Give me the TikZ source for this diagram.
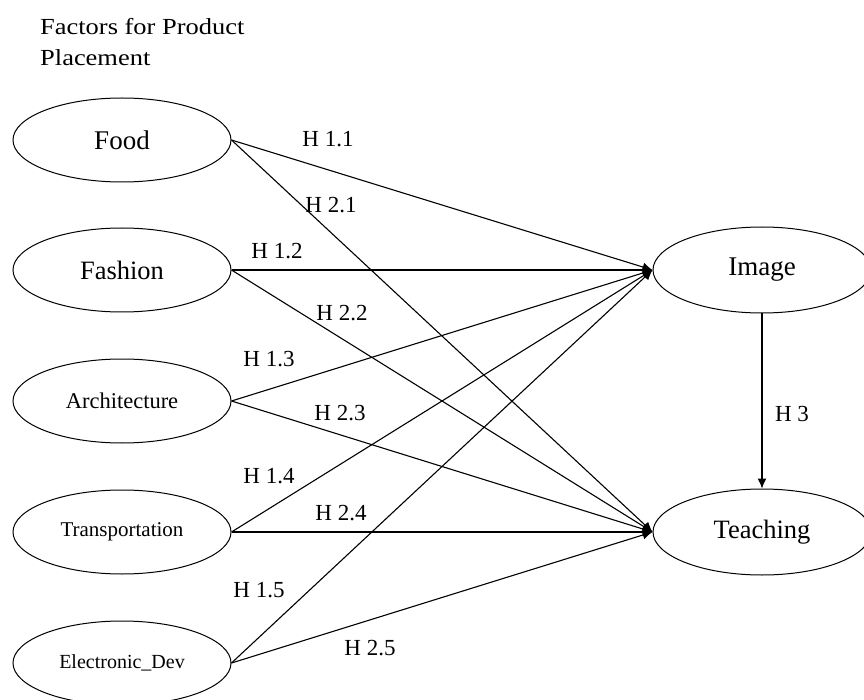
\documentclass[tikz,border=0pt]{standalone}
\usepackage{fontspec}
\setmainfont{Liberation Serif}
\newfontfamily\titlefont[FakeStretch=1.15]{Liberation Serif}
\usetikzlibrary{arrows.meta,calc,shapes.geometric}

\begin{document}
\begin{tikzpicture}[>={Latex[length=10pt,width=9pt]}, x=1pt, y=-1pt]
	\tikzstyle{factor}=[ellipse, draw, line width=1pt, inner sep=0pt, minimum width=218pt, minimum height=84pt]
	\tikzstyle{hyp}=[line width=1.1pt, ->]
	\tikzstyle{hyplabel}=[inner sep=0pt, font=\fontsize{23}{27}\selectfont]

	\useasboundingbox (0,0) rectangle (864,700);

	\node (title) [anchor=base west, align=left, inner sep=0pt, font=\titlefont\fontsize{23}{31}\selectfont] at (40,66) {Factors for Product\\Placement};

	\node (food) [factor, font=\fontsize{27}{30}\selectfont] at (122,140) {Food};
	\node (fashion) [factor, font=\fontsize{26.5}{30}\selectfont] at (122,270) {Fashion};
	\node (architecture) [factor, font=\fontsize{22.5}{26}\selectfont] at (122,401) {Architecture};
	\node (transportation) [factor, font=\fontsize{21}{25}\selectfont] at (122,532) {Transportation};
	\node (electronic) [factor, font=\fontsize{20}{24}\selectfont] at (122,663) {Electronic\_Dev};

	\node (image) [factor, minimum height=86pt, font=\fontsize{27}{30}\selectfont] at (762,270) {Image};
	\node (teaching) [factor, minimum height=86pt, font=\fontsize{26.5}{30}\selectfont] at (762,532) {Teaching};

	\draw [hyp] (food.east) -- (image.west);
	\draw [hyp] (food.east) -- (teaching.west);
	\draw [hyp] (fashion.east) -- (image.west);
	\draw [hyp] (fashion.east) -- (teaching.west);
	\draw [hyp] (architecture.east) -- (image.west);
	\draw [hyp] (architecture.east) -- (teaching.west);
	\draw [hyp] (transportation.east) -- (image.west);
	\draw [hyp] (transportation.east) -- (teaching.west);
	\draw [hyp] (electronic.east) -- (image.west);
	\draw [hyp] (electronic.east) -- (teaching.west);
	\draw [hyp] (image.south) -- (teaching.north);

	\node (h11) [hyplabel] at (328,139) {H 1.1};
	\node (h21) [hyplabel] at (331,205) {H 2.1};
	\node (h12) [hyplabel] at (277,251) {H 1.2};
	\node (h22) [hyplabel] at (342,313) {H 2.2};
	\node (h13) [hyplabel] at (269,359) {H 1.3};
	\node (h23) [hyplabel] at (340,413) {H 2.3};
	\node (h14) [hyplabel] at (269,476) {H 1.4};
	\node (h24) [hyplabel] at (341,513) {H 2.4};
	\node (h15) [hyplabel] at (259,590) {H 1.5};
	\node (h25) [hyplabel] at (370,648) {H 2.5};
	\node (h3) [hyplabel] at (792,414) {H 3};
\end{tikzpicture}
\end{document}
